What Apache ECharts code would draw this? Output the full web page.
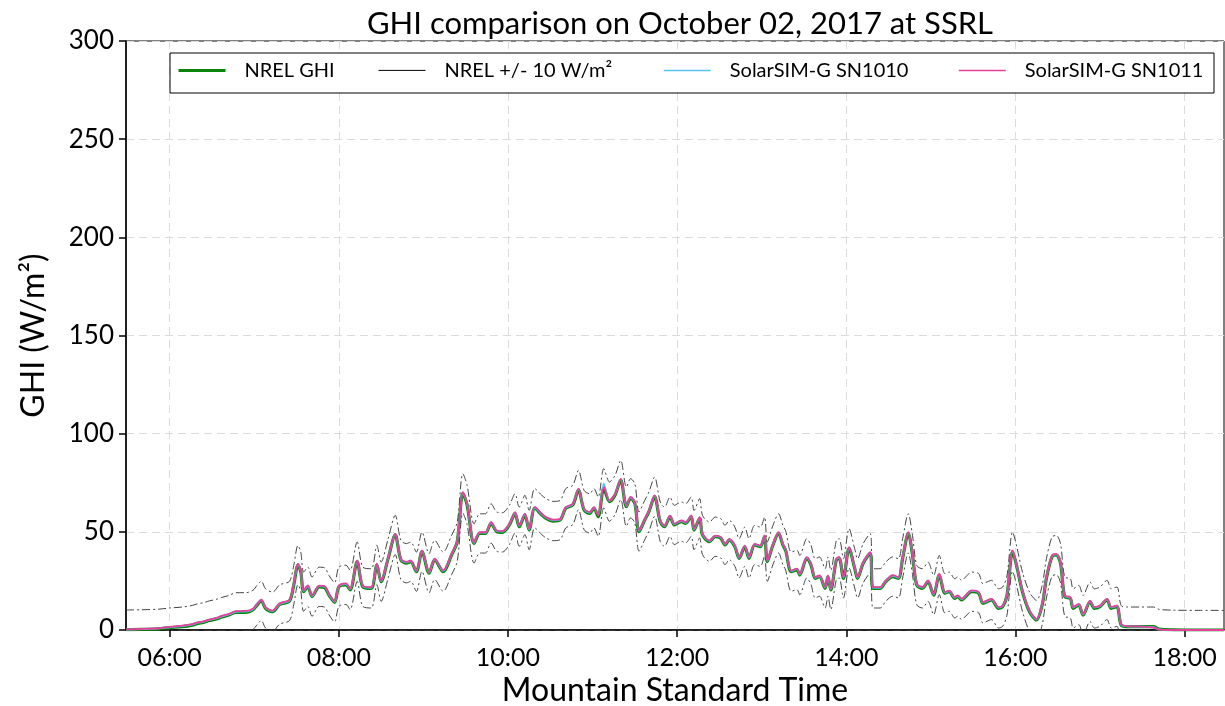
<!DOCTYPE html>
<html>
<head>
<meta charset="utf-8">
<script src="https://cdn.jsdelivr.net/npm/echarts@6/dist/echarts.min.js"></script>
<style>
  html, body { margin: 0; padding: 0; background: #fff; }
  #chart { width: 1225px; height: 706px; }
</style>
</head>
<body>
<div id="chart"></div>
<script>
// Mountain Standard Time of each reading, October 02 2017
const times = [
  '05:29','05:40','05:52','06:00','06:09','06:16','06:20','06:24','06:28','06:33',
  '06:37','06:42','06:47','06:54','06:59','07:02','07:05','07:08','07:13','07:18',
  '07:25','07:28','07:31','07:33','07:35','07:38','07:41','07:46','07:50','07:53',
  '07:57','08:00','08:05','08:08','08:13','08:17','08:23','08:27','08:30','08:35',
  '08:40','08:44','08:48','08:51','08:55','08:59','09:04','09:08','09:14','09:20',
  '09:24','09:28','09:31','09:36','09:40','09:44','09:48','09:52','09:56','10:01',
  '10:05','10:08','10:12','10:15','10:19','10:24','10:27','10:32','10:37','10:41',
  '10:46','10:50','10:54','10:58','11:01','11:04','11:08','11:12','11:16','11:20',
  '11:24','11:27','11:30','11:33','11:37','11:40','11:44','11:48','11:51','11:55',
  '11:58','12:03','12:06','12:10','12:12','12:16','12:18','12:23','12:27','12:31',
  '12:34','12:37','12:41','12:44','12:48','12:51','12:55','12:59','13:02','13:04',
  '13:08','13:12','13:15','13:17','13:21','13:25','13:27','13:32','13:35','13:38',
  '13:41','13:45','13:47','13:49','13:53','13:55','13:58','14:02','14:06','14:08',
  '14:12','14:17','14:19','14:24','14:28','14:33','14:37','14:40','14:44','14:47',
  '14:50','14:54','14:58','15:02','15:06','15:10','15:13','15:17','15:19','15:22',
  '15:24','15:29','15:34','15:37','15:43','15:48','15:51','15:54','15:58','16:01',
  '16:05','16:10','16:15','16:19','16:22','16:26','16:29','16:32','16:35','16:39',
  '16:41','16:45','16:48','16:53','16:56','17:00','17:05','17:08','17:12','17:15',
  '17:19','17:28','17:38','17:42','17:52','18:10','18:28'
];

// NREL reference GHI (W/m2)
const nrelGhi = [
  0.2,0.3,0.6,1.2,1.7,2.5,3.4,3.9,4.8,5.6,
  6.6,7.6,9.0,9.0,10.2,12.7,14.9,11.0,9.3,13.0,
  14.8,22.9,33.1,29.7,19.5,22.0,17.0,22.0,21.6,17.8,
  14.1,22.0,23.0,20.4,34.8,22.0,21.2,33.1,24.6,36.5,
  48.4,35.7,34.0,34.8,29.7,39.9,28.9,35.7,29.7,38.2,
  45.0,69.6,63.7,44.1,49.2,49.2,54.3,50.1,49.7,53.5,
  59.4,52.6,58.6,50.9,62.0,58.6,56.9,55.5,56.0,62.0,
  63.7,71.3,61.1,59.4,62.0,57.7,72.2,65.4,68.8,76.4,
  62.8,67.1,64.5,50.1,56.0,60.3,67.9,55.2,52.6,57.7,
  53.5,55.2,54.3,57.7,50.9,56.9,48.4,45.0,47.5,46.7,
  43.3,45.8,42.4,36.5,42.4,36.5,43.3,42.4,47.5,34.8,
  43.3,49.2,43.3,40.5,29.7,30.6,28.0,36.5,33.1,26.3,
  27.2,21.2,27.2,20.4,35.7,36.5,26.3,41.6,31.4,26.3,
  34.0,39.1,21.2,21.2,24.6,27.2,26.3,36.5,49.2,38.2,
  22.9,21.2,24.6,17.8,28.0,18.7,19.5,16.1,17.0,15.3,
  16.5,19.5,18.7,13.6,15.3,11.0,11.9,17.5,39.9,32.3,
  19.5,9.3,5.1,12.7,26.3,37.4,38.2,34.0,17.0,16.1,
  11.0,12.7,7.6,14.4,11.0,11.9,15.3,11.0,11.9,2.5,
  1.7,1.7,1.7,0.5,0.1,0,0
];

const sn1010 = [
  0.2,0.4,0.8,1.4,2.0,2.8,3.7,4.2,5.1,5.9,
  6.9,7.9,9.3,9.4,10.5,13.1,15.3,11.4,9.6,13.3,
  15.1,23.3,33.5,30.1,19.8,22.4,17.3,22.3,22.0,18.1,
  14.4,22.3,23.4,20.7,35.1,22.4,21.5,33.5,24.9,36.8,
  48.8,36.0,34.4,35.1,30.0,40.3,29.2,36.0,30.1,38.5,
  45.3,70.0,64.1,44.4,49.6,49.5,54.6,50.4,50.1,53.8,
  59.7,53.0,58.9,51.2,62.4,58.9,57.2,55.9,56.3,62.3,
  64.0,71.8,61.4,59.8,62.3,58.6,74.6,65.7,69.2,76.8,
  63.1,67.5,64.8,50.5,56.3,60.6,68.2,55.6,52.9,58.0,
  53.9,55.5,54.6,58.1,51.2,57.2,48.8,45.3,47.8,47.1,
  43.6,46.1,42.8,36.8,42.7,36.9,43.6,42.7,47.9,35.1,
  43.6,49.5,43.7,40.8,30.0,31.0,28.3,36.8,33.5,26.6,
  27.5,21.6,27.5,20.7,36.0,36.9,26.6,41.9,31.7,26.7,
  34.3,39.4,21.6,21.5,24.9,27.6,26.6,36.8,49.6,38.5,
  23.2,21.6,24.9,18.1,28.4,19.0,19.8,16.5,17.3,15.6,
  16.8,19.9,19.0,13.9,15.6,11.4,12.2,17.8,40.3,32.6,
  19.8,9.6,5.4,13.1,26.6,37.7,38.5,34.4,17.3,16.4,
  11.4,13.0,7.9,14.7,11.4,12.2,15.6,11.4,12.2,2.8,
  1.9,1.7,1.4,0.3,0,0,0
];

const sn1011 = [
  0.3,0.5,0.9,1.6,2.2,3.0,3.9,4.4,5.3,6.2,
  7.2,8.2,9.6,9.7,10.8,13.4,15.5,11.7,9.9,13.6,
  15.4,23.6,33.8,30.3,20.1,22.7,17.6,22.6,22.3,18.4,
  14.7,22.6,23.7,21.0,35.4,22.6,21.8,33.8,25.2,37.1,
  49.0,36.3,34.7,35.4,30.3,40.6,29.5,36.3,30.4,38.8,
  45.6,70.2,64.3,44.7,49.9,49.8,54.9,50.7,50.4,54.1,
  60.0,53.3,59.2,51.5,62.7,59.2,57.5,56.2,56.6,62.6,
  64.3,72.0,61.7,60.1,62.6,58.4,72.8,66.0,69.5,77.0,
  63.4,67.8,65.1,50.8,56.6,60.9,68.5,55.9,53.2,58.3,
  54.2,55.8,54.9,58.4,51.5,57.5,49.1,45.6,48.1,47.4,
  43.9,46.4,43.1,37.1,43.0,37.2,43.9,43.0,48.2,35.4,
  43.9,49.8,44.0,41.1,30.3,31.3,28.6,37.1,33.8,26.9,
  27.8,21.9,27.8,21.0,36.3,37.2,26.9,42.2,32.0,27.0,
  34.6,39.7,21.9,21.8,25.2,27.9,26.9,37.1,49.9,38.8,
  23.5,21.9,25.2,18.4,28.7,19.3,20.1,16.8,17.6,15.9,
  17.1,20.2,19.3,14.2,15.9,11.7,12.5,18.1,40.6,32.9,
  20.1,9.9,5.7,13.4,26.9,38.0,38.8,34.7,17.6,16.7,
  11.7,13.3,8.2,15.0,11.7,12.5,15.9,11.7,12.5,3.0,
  2.0,1.8,1.2,0.2,0,0,0
];

const bandWidth = 10; // NREL +/- 10 W/m2
const tickTimes = ['06:00', '08:00', '10:00', '12:00', '14:00', '16:00', '18:00'];
const xRange = ['05:29', '18:28'];

const FONT = 'Lato';
const BAND_NAME = 'NREL +/- 10 W/m²';

function toMin(t) {
    let p = t.split(':');
    return Number(p[0]) * 60 + Number(p[1]);
}
function fmtMin(m) {
    let h = Math.floor(m / 60), mm = Math.round(m % 60);
    return (h < 10 ? '0' : '') + h + ':' + (mm < 10 ? '0' : '') + mm;
}
function pairs(vals) {
    return times.map((t, i) => [toMin(t), vals[i]]);
}

let tickVals = tickTimes.map(toMin);
let upper = pairs(nrelGhi.map(v => v + bandWidth));
let lower = pairs(nrelGhi.map(v => v - bandWidth));

let chart = echarts.init(document.getElementById('chart'));

// one legend per entry so each sits where the reference puts it
function legendAt(left, name, color, width) {
    return {
        left: left,
        top: 60,
        padding: 0,
        z: 10,
        itemWidth: 47,
        itemHeight: 26,
        selectedMode: false,
        itemStyle: {opacity: 0},
        lineStyle: {type: 'solid', color: color, width: width},
        textStyle: {fontFamily: FONT, fontSize: 20, color: '#000', padding: [0, 0, 0, 14]},
        data: [name]
    };
}

let option = {
    animation: false,
    backgroundColor: '#fff',
    title: {
        text: 'GHI comparison on October 02, 2017 at SSRL',
        left: 675,
        textAlign: 'center',
        top: 3,
        textStyle: {fontFamily: FONT, fontSize: 31, fontWeight: 'normal', color: '#000'}
    },
    grid: {
        left: 126, right: 1, top: 41, bottom: 76,
        outerBoundsMode: 'none',
        show: true, borderColor: '#000', borderWidth: 1
    },
    graphic: [{
        type: 'rect',
        shape: {x: 170, y: 53, width: 1044, height: 40},
        style: {fill: '#fff', stroke: '#000', lineWidth: 1},
        z: 1
    }],
    legend: [
        legendAt(177, 'NREL GHI', '#0a840a', 3),
        legendAt(378, BAND_NAME, '#000', 1),
        legendAt(663, 'SolarSIM-G SN1010', '#58c3ee', 1.5),
        legendAt(958, 'SolarSIM-G SN1011', '#e5409a', 1.5)
    ],
    xAxis: {
        type: 'value',
        min: toMin(xRange[0]),
        max: toMin(xRange[1]),
        name: 'Mountain Standard Time',
        nameLocation: 'middle',
        nameGap: 44,
        nameTextStyle: {fontFamily: FONT, fontSize: 32, color: '#000'},
        axisLine: {lineStyle: {color: '#000', width: 1.5}},
        axisTick: {customValues: tickVals, length: 7, lineStyle: {color: '#000', width: 1.5}},
        axisLabel: {customValues: tickVals, formatter: fmtMin, fontFamily: FONT, fontSize: 25, color: '#000', margin: 15},
        splitLine: {show: true, lineStyle: {color: '#dcdcdc', type: [8, 5], width: 1}}
    },
    yAxis: {
        type: 'value',
        min: 0,
        max: 300,
        interval: 50,
        name: 'GHI (W/m²)',
        nameLocation: 'middle',
        nameGap: 76,
        nameTextStyle: {fontFamily: FONT, fontSize: 32, color: '#000'},
        axisLine: {show: true, lineStyle: {color: '#000', width: 1.5}},
        axisTick: {show: true, length: 7, lineStyle: {color: '#000', width: 1.5}},
        axisLabel: {fontFamily: FONT, fontSize: 26, color: '#000', margin: 12},
        splitLine: {show: true, lineStyle: {color: '#dcdcdc', type: [8, 5], width: 1}}
    },
    series: [
        {
            name: 'NREL GHI', type: 'line', data: pairs(nrelGhi),
            symbol: 'none', smooth: 0.3, z: 2,
            lineStyle: {color: '#0a840a', width: 3.2}, itemStyle: {color: '#0a840a'}
        },
        {
            name: BAND_NAME, type: 'line', data: upper,
            symbol: 'none', smooth: 0.3, z: 2,
            lineStyle: {color: '#444', width: 1, type: [8, 3, 2, 3]}, itemStyle: {color: '#000'}
        },
        {
            name: BAND_NAME, type: 'line', data: lower,
            symbol: 'none', smooth: 0.3, z: 2,
            lineStyle: {color: '#444', width: 1, type: [8, 3, 2, 3]}, itemStyle: {color: '#000'}
        },
        {
            name: 'SolarSIM-G SN1010', type: 'line', data: pairs(sn1010),
            symbol: 'none', smooth: 0.3, z: 3,
            lineStyle: {color: '#58c3ee', width: 1.8}, itemStyle: {color: '#58c3ee'}
        },
        {
            name: 'SolarSIM-G SN1011', type: 'line', data: pairs(sn1011),
            symbol: 'none', smooth: 0.3, z: 4,
            lineStyle: {color: '#e5409a', width: 1.8}, itemStyle: {color: '#e5409a'}
        }
    ]
};

chart.setOption(option);
</script>
</body>
</html>
